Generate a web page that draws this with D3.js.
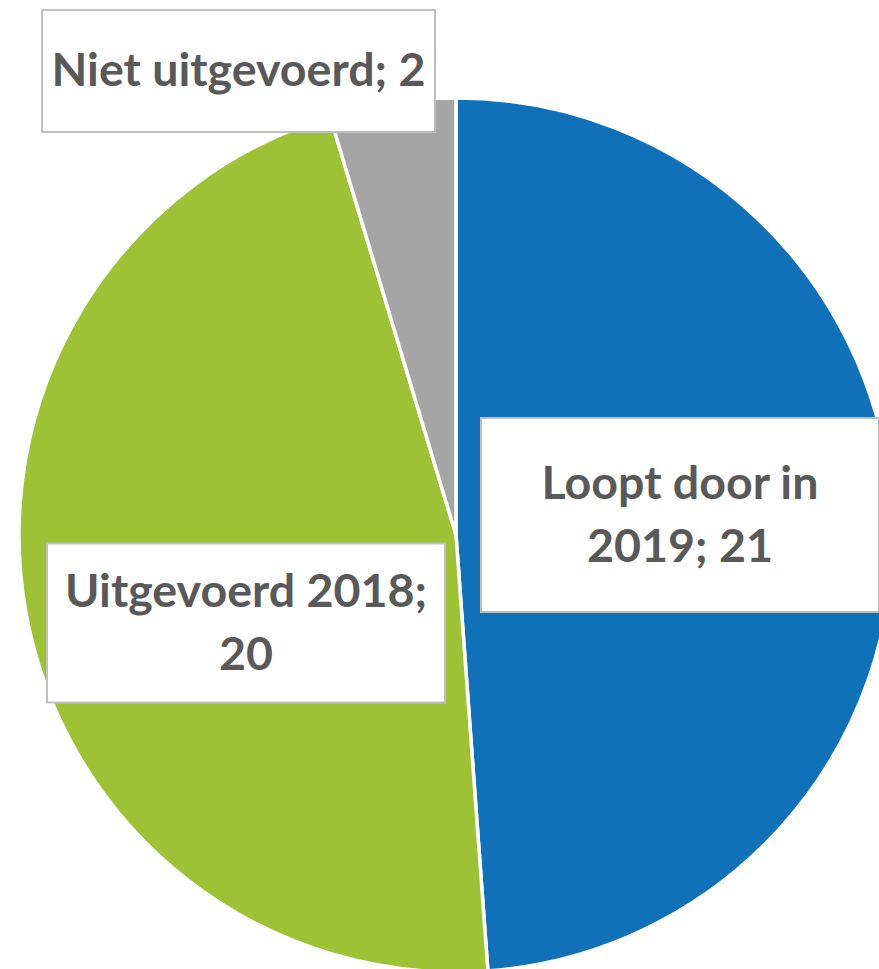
<!DOCTYPE html>
<html>
<head>
<meta charset="utf-8">
<script src="https://cdn.jsdelivr.net/npm/d3@7"></script>
<style>
  html, body { margin: 0; padding: 0; background: #ffffff; overflow: hidden; }
  svg { display: block; }
</style>
</head>
<body>
<svg id="chart" width="879" height="969"></svg>
<script>
// ---- data ----
const categories = ["Loopt door in 2019", "Uitgevoerd 2018", "Niet uitgevoerd"];
const values = [21, 20, 2];
const colors = ["#1070B8", "#9DC236", "#A5A5A5"];
const labelLines = [["Loopt door in", "2019; 21"], ["Uitgevoerd 2018;", "20"], ["Niet uitgevoerd; 2"]];

// ---- layout ----
const W = 879, H = 969;
const cx = 456, cy = 535, R = 437;
// label boxes, as [centerX, centerY, width, height] relative to pie centre
const boxLayout = [
  [224, -20, 398, 194],
  [-210, 88, 398, 159],
  [-217.5, -464, 393, 122]
];
const lineHeight = 63;
const textColor = "#595959";

const svg = d3.select("#chart");
const g = svg.append("g").attr("transform", `translate(${cx},${cy})`);

const pie = d3.pie().sort(null).value(d => d)(values);
const arc = d3.arc().innerRadius(0).outerRadius(R);

g.selectAll("path.slice")
  .data(pie)
  .join("path")
  .attr("class", "slice")
  .attr("d", arc)
  .attr("fill", (d, i) => colors[i])
  .attr("stroke", "#ffffff")
  .attr("stroke-width", 3.5)
  .attr("stroke-linejoin", "round");

// fit font size so that reference line widths match
const probe = svg.append("text")
  .attr("font-family", "Lato, 'Open Sans', sans-serif")
  .attr("font-weight", "bold")
  .attr("font-size", 50)
  .text("Loopt door in");
const measured = probe.node().getComputedTextLength();
probe.remove();
const fontSize = 50 * 277 / measured;

const labels = g.selectAll("g.label")
  .data(pie)
  .join("g")
  .attr("class", "label")
  .attr("transform", (d, i) => `translate(${boxLayout[i][0]},${boxLayout[i][1]})`);

labels.append("rect")
  .attr("x", (d, i) => -boxLayout[i][2] / 2)
  .attr("y", (d, i) => -boxLayout[i][3] / 2)
  .attr("width", (d, i) => boxLayout[i][2])
  .attr("height", (d, i) => boxLayout[i][3])
  .attr("fill", "#ffffff")
  .attr("stroke", "#BFBFBF")
  .attr("stroke-width", 2);

labels.each(function(d, i) {
  const lines = labelLines[i];
  const t = d3.select(this).append("text")
    .attr("text-anchor", "middle")
    .attr("font-family", "Lato, 'Open Sans', sans-serif")
    .attr("font-weight", "bold")
    .attr("font-size", fontSize)
    .attr("fill", textColor);
  lines.forEach((ln, k) => {
    t.append("tspan")
      .attr("x", 0)
      .attr("y", (k - (lines.length - 1) / 2) * lineHeight + fontSize * 0.33)
      .text(ln);
  });
});
</script>
</body>
</html>
